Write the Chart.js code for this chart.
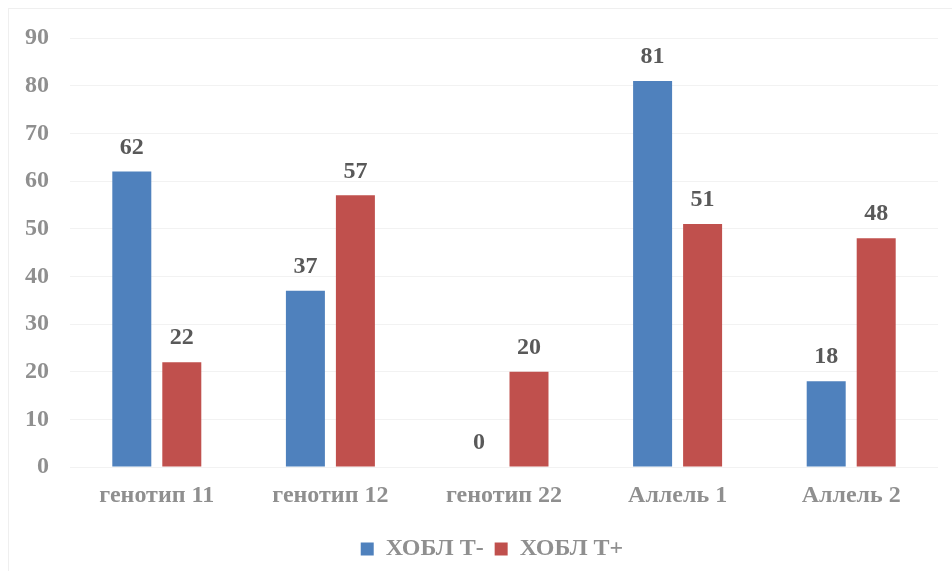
<!DOCTYPE html>
<html>
<head>
<meta charset="utf-8">
<script src="https://cdn.jsdelivr.net/npm/chart.js@4"></script>
<style>
  body { margin: 0; background: #fff; }
  #wrap { width: 952px; height: 571px; }
</style>
</head>
<body>
<div id="wrap"><canvas id="chart" width="952" height="571"></canvas></div>
<script>
// chart data
const categories = ['генотип 11', 'генотип 12', 'генотип 22', 'Аллель 1', 'Аллель 2'];
const seriesNames = ['ХОБЛ Т-', 'ХОБЛ Т+'];
const tMinus = [62, 37, 0, 81, 18];
const tPlus = [22, 57, 20, 51, 48];
const yTicks = [0, 10, 20, 30, 40, 50, 60, 70, 80, 90];

const serif = '"Liberation Serif", "Times New Roman", serif';

// numbers above the bars
const barLabels = {
  id: 'barLabels',
  afterDatasetsDraw(chart) {
    const ctx = chart.ctx;
    ctx.save();
    ctx.font = 'bold 24px ' + serif;
    ctx.fillStyle = '#595959';
    ctx.textAlign = 'center';
    ctx.textBaseline = 'bottom';
    chart.data.datasets.forEach((ds, i) => {
      chart.getDatasetMeta(i).data.forEach((bar, j) => {
        ctx.fillText(ds.data[j], bar.x, bar.y - 12);
      });
    });
    ctx.restore();
  }
};

// faint frame round the chart, legend nudged a bit right like the original
const frame = {
  id: 'frame',
  afterLayout(chart) {
    chart.legend.left += 23;
    chart.legend.right += 23;
  },
  beforeDraw(chart) {
    const ctx = chart.ctx;
    ctx.save();
    ctx.strokeStyle = '#efefef';
    ctx.lineWidth = 1;
    ctx.strokeRect(8.5, 8.5, 1000, 700);
    ctx.restore();
  }
};

new Chart('chart', {
  type: 'bar',
  data: {
    labels: categories,
    datasets: [
      { label: seriesNames[0], data: tMinus, backgroundColor: '#4F81BD' },
      { label: seriesNames[1], data: tPlus, backgroundColor: '#C0504D' }
    ]
  },
  options: {
    responsive: false,
    animation: false,
    layout: { padding: { top: 38, right: 14, bottom: 0, left: 0 } },
    datasets: {
      bar: { categoryPercentage: 0.576, barPercentage: 0.78 }
    },
    scales: {
      x: {
        afterFit(scale) { scale.height = 59; },
        grid: { display: false },
        border: { display: false },
        ticks: {
          padding: 6,
          color: '#8f8f8f',
          font: { family: serif, size: 24, weight: 'bold' }
        }
      },
      y: {
        min: 0,
        max: 90,
        afterFit(scale) { scale.width = 70; },
        afterBuildTicks(scale) { scale.ticks = yTicks.map(v => ({ value: v })); },
        grid: { color: '#f2f2f2', drawTicks: false },
        border: { display: false },
        ticks: {
          padding: 21,
          color: '#8f8f8f',
          font: { family: serif, size: 24, weight: 'bold' }
        }
      }
    },
    plugins: {
      legend: {
        position: 'bottom',
        labels: {
          boxWidth: 13,
          boxHeight: 13,
          padding: 11,
          color: '#8f8f8f',
          font: { family: serif, size: 24, weight: 'bold' }
        }
      },
      tooltip: { enabled: false }
    }
  },
  plugins: [frame, barLabels]
});
</script>
</body>
</html>
